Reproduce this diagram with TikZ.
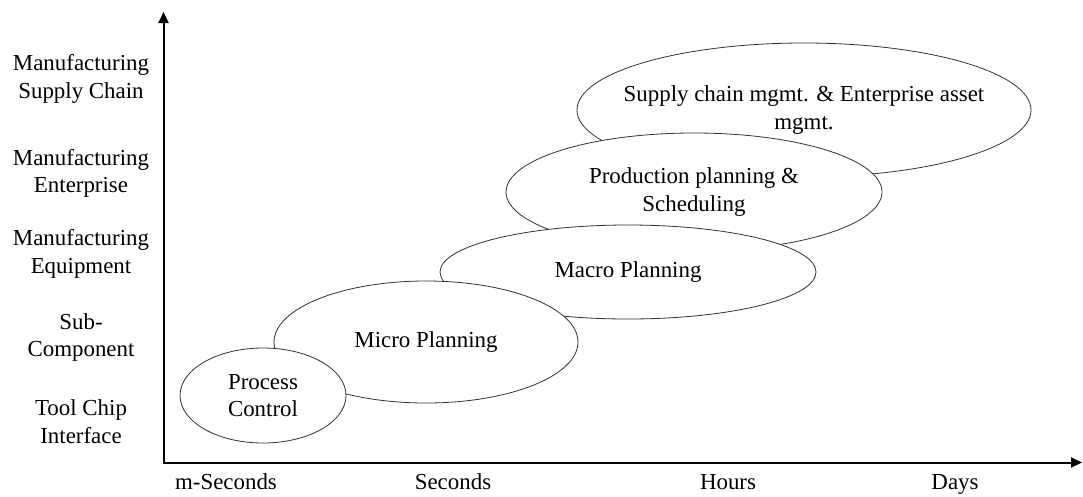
\documentclass[tikz,border=0pt]{standalone}
\usepackage{fontspec}
\setmainfont{Liberation Serif}
\usetikzlibrary{shapes.geometric,arrows.meta}
\begin{document}
\begin{tikzpicture}[x=1pt,y=-1pt,
  every node/.style={font=\fontsize{22.9}{27.5}\selectfont},
  oval/.style={ellipse, draw=black!80, line width=0.8pt, fill=white, inner sep=0pt, align=center},
  lbl/.style={align=center, inner sep=0pt},
  xlbl/.style={anchor=base, inner sep=0pt},
  axis/.style={line width=2pt, {Triangle[length=11pt,width=10pt]}-{Triangle[length=11pt,width=10pt]}}]
\useasboundingbox (0,0) rectangle (1083,496);
% axes
\coordinate (top) at (163.5,12);
\coordinate (corner) at (163.5,462.5);
\coordinate (right) at (1082,462.5);
\draw[axis] (top) -- (corner) -- (right);
% ellipses (back to front)
\node[oval, inner xsep=-60pt, minimum width=454pt, minimum height=134pt] (sup) at (804,110)
  {Supply chain mgmt. \& Enterprise asset\\mgmt.};
\node[oval, minimum width=376pt, minimum height=118pt] (prod) at (694,192)
  {Production planning \&\\Scheduling};
\node[oval, minimum width=376pt, minimum height=94pt] (macro) at (628,272)
  {Macro Planning};
\node[oval, minimum width=304pt, minimum height=122pt] (micro) at (426,342)
  {Micro Planning};
\node[oval, minimum width=166pt, minimum height=95pt] (proc) at (263,395.5)
  {Process\\Control};
% y labels
\node[lbl] (y5) at (81,79) {Manufacturing\\Supply Chain};
\node[lbl] (y4) at (81,173.5) {Manufacturing\\Enterprise};
\node[lbl] (y3) at (81,254) {Manufacturing\\Equipment};
\node[lbl] (y2) at (81,337.5) {Sub-\\Component};
\node[lbl] (y1) at (81,421.5) {Tool Chip\\Interface};
% x labels
\node[xlbl] (x1) at (226,489) {m-Seconds};
\node[xlbl] (x2) at (453,489) {Seconds};
\node[xlbl] (x3) at (728,489) {Hours};
\node[xlbl] (x4) at (955,489) {Days};
\end{tikzpicture}
\end{document}
